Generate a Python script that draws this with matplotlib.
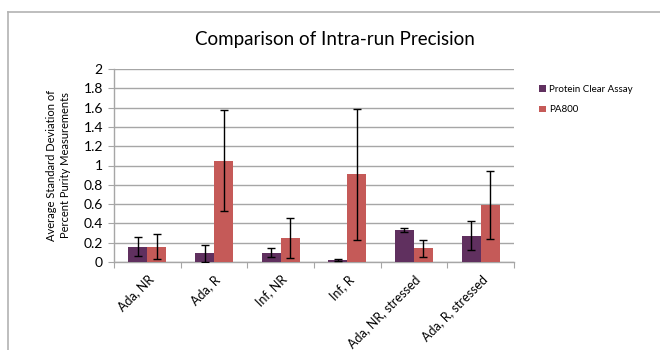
import matplotlib
matplotlib.use("Agg")
import matplotlib.pyplot as plt
import numpy as np

plt.rcParams['font.family'] = ['Lato', 'DejaVu Sans']

categories = ["Ada, NR", "Ada, R", "Inf, NR", "Inf, R", "Ada, NR, stressed", "Ada, R, stressed"]
series_names = ["Protein Clear Assay", "PA800"]
pca_values = [0.16, 0.09, 0.095, 0.02, 0.33, 0.27]
pca_errors = [0.10, 0.09, 0.047, 0.01, 0.024, 0.15]
pa800_values = [0.16, 1.05, 0.25, 0.91, 0.14, 0.59]
pa800_errors = [0.125, 0.525, 0.21, 0.68, 0.085, 0.355]
y_ticks = [0, 0.2, 0.4, 0.6, 0.8, 1, 1.2, 1.4, 1.6, 1.8, 2]
y_tick_labels = ["0", "0.2", "0.4", "0.6", "0.8", "1", "1.2", "1.4", "1.6", "1.8", "2"]

purple = "#60305F"
red = "#C55A58"
grid_col = "#A6A6A6"

fig = plt.figure(figsize=(6.6, 3.5), dpi=100)
ax = fig.add_axes([114/660, 1 - 262/350, 400/660, 193/350])

x = np.arange(len(categories)) + 0.5
w = 0.285
b1 = ax.bar(x - w/2, pca_values, width=w, color=purple, zorder=3,
            label=series_names[0])
b2 = ax.bar(x + w/2, pa800_values, width=w, color=red, zorder=3,
            label=series_names[1])
ekw = dict(fmt='none', ecolor='black', elinewidth=1.0, capsize=3, capthick=1.0, zorder=4)
ax.errorbar(x - w/2, pca_values, yerr=pca_errors, **ekw)
ax.errorbar(x + w/2, pa800_values, yerr=pa800_errors, **ekw)

ax.set_xlim(0, len(categories))
ax.set_ylim(0, 2)
ax.set_yticks(y_ticks)
ax.set_yticklabels(y_tick_labels, fontsize=10)
ax.yaxis.grid(True, color=grid_col, linewidth=1.0, zorder=0)
ax.set_axisbelow(True)

# category boundary ticks on the x axis, labels at category centres
ax.set_xticks(np.arange(len(categories) + 1))
ax.set_xticklabels([])
ax.set_xticks(x, minor=True)
ax.set_xticklabels(categories, minor=True, rotation=45, ha='right', va='top',
                   rotation_mode='anchor', fontsize=9)
ax.tick_params(axis='x', which='major', length=4, color=grid_col, direction='out')
ax.tick_params(axis='x', which='minor', length=0, pad=8)
ax.tick_params(axis='y', length=4, color=grid_col, direction='out', pad=4)

for s in ['top', 'right']:
    ax.spines[s].set_visible(False)
for s in ['left', 'bottom']:
    ax.spines[s].set_color(grid_col)
    ax.spines[s].set_linewidth(1.0)

ax.set_ylabel("Average Standard Deviation of\nPercent Purity Measurements",
              fontsize=8, labelpad=9, linespacing=1.35)

fig.text(335/660, 1 - 40/350, "Comparison of Intra-run Precision",
         ha='center', va='center', fontsize=13.5)

ax.legend(handles=[b1, b2], loc='upper left', bbox_to_anchor=(530/660, 1 - 76/350),
          bbox_transform=fig.transFigure, frameon=False, fontsize=7,
          handlelength=0.7, handleheight=0.7, handletextpad=0.4, labelspacing=1.2)

# chart area border
fig.add_artist(plt.Line2D([8/660, 8/660], [0, 1 - 12/350], color='#B3B3B3',
                          linewidth=1.2, transform=fig.transFigure))
fig.add_artist(plt.Line2D([8/660, 1], [1 - 12/350, 1 - 12/350], color='#B3B3B3',
                          linewidth=1.2, transform=fig.transFigure))

fig.savefig("out.png", dpi=100, facecolor='white')
